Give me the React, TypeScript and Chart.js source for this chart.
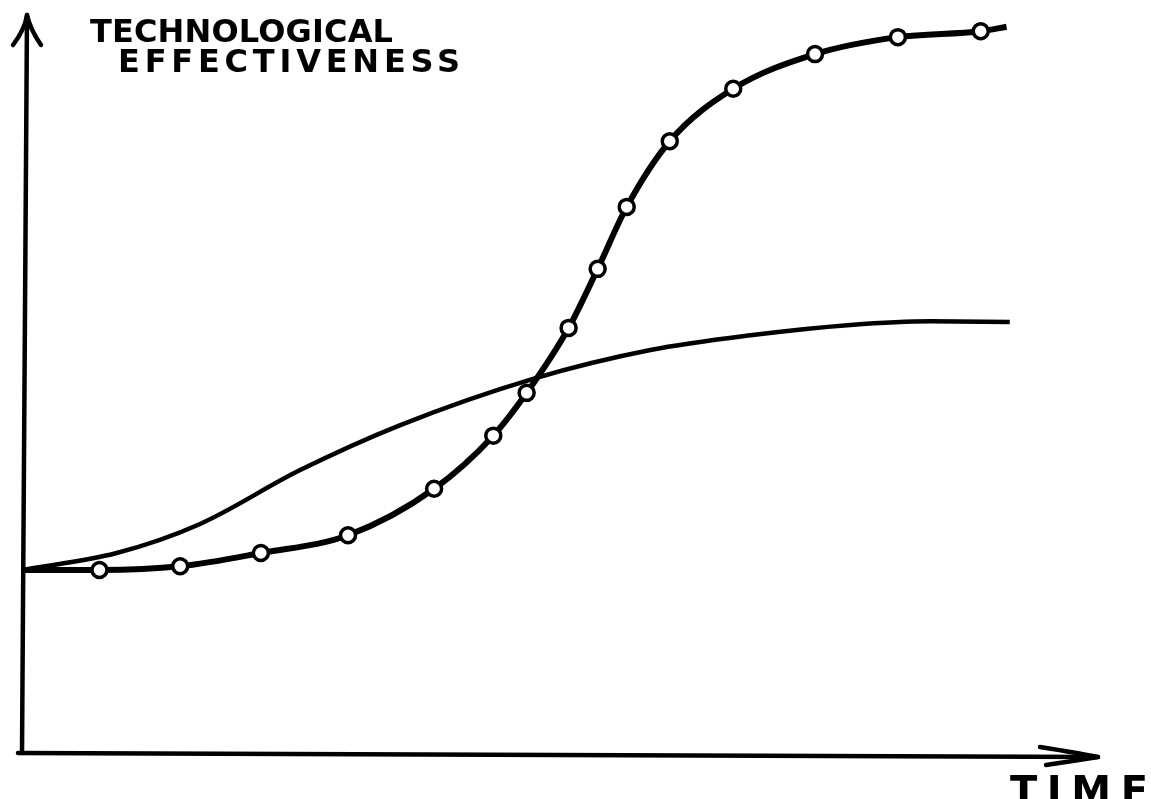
import React, { useEffect, useRef } from "react";
import { Chart, registerables } from "chart.js";

Chart.register(...registerables);

// S-curve with markers (new technology)
const boldTime = [0, 7.2, 14.7, 22.2, 30.3, 38.3, 43.8, 46.9, 50.8, 53.5, 56.2, 60.2, 66.1, 73.7, 81.4, 89.1, 91.5];
const boldEff = [24.8, 24.8, 25.3, 27.1, 29.5, 35.8, 43.0, 48.8, 57.6, 65.6, 74.0, 82.9, 90.0, 94.7, 97.0, 97.8, 98.4];
const boldMarker = [0, 1, 1, 1, 1, 1, 1, 1, 1, 1, 1, 1, 1, 1, 1, 1, 0];

// Thin curve (old technology)
const thinTime = [0, 8.8, 16.5, 25.8, 35.1, 47.5, 58.4, 67.7, 77.0, 84.4, 91.8];
const thinEff = [24.8, 27.1, 31.0, 38.3, 44.4, 50.7, 54.6, 56.6, 58.0, 58.5, 58.4];

const yTitleLines = ["TECHNOLOGICAL", "EFFECTIVENESS"];
const xTitle = "TIME";

function fitText(ctx: CanvasRenderingContext2D, text: string, x: number, y: number, w: number) {
  (ctx as any).letterSpacing = "0px";
  const m = ctx.measureText(text).width;
  ctx.save();
  ctx.translate(x, y);
  if (m < w) {
    const sp = (w - m) / Math.max(1, text.length - 1);
    (ctx as any).letterSpacing = sp + "px";
    ctx.fillText(text, 0, 0);
  } else {
    ctx.scale(w / m, 1);
    ctx.fillText(text, 0, 0);
  }
  ctx.restore();
}

const sketchPlugin = {
  id: "sketch",
  afterDraw(chart: any) {
    const { ctx, chartArea } = chart;
    const { left, right, top, bottom } = chartArea;
    ctx.save();
    ctx.strokeStyle = "#000";
    ctx.fillStyle = "#000";
    ctx.lineCap = "round";
    ctx.lineJoin = "round";
    ctx.lineWidth = 4.5;
    // y axis
    ctx.beginPath();
    ctx.moveTo(left, bottom);
    ctx.lineTo(left + 5, top);
    ctx.stroke();
    // y arrow head
    ctx.beginPath();
    ctx.moveTo(left - 9, top + 30);
    ctx.quadraticCurveTo(left + 3, top + 14, left + 5, top);
    ctx.quadraticCurveTo(left + 8, top + 14, left + 19, top + 30);
    ctx.stroke();
    // x axis
    ctx.beginPath();
    ctx.moveTo(left - 4, bottom);
    ctx.lineTo(right, bottom + 4);
    ctx.stroke();
    // x arrow head
    ctx.beginPath();
    ctx.moveTo(right - 58, bottom - 6);
    ctx.quadraticCurveTo(right - 20, bottom, right, bottom + 4);
    ctx.quadraticCurveTo(right - 25, bottom + 8, right - 52, bottom + 12);
    ctx.stroke();

    // titles
    ctx.textBaseline = "alphabetic";
    ctx.font = "bold 32px 'DejaVu Sans'";
    fitText(ctx, yTitleLines[0], 90, 42, 303);
    fitText(ctx, yTitleLines[1], 118, 72, 342);
    ctx.font = "bold 40px 'DejaVu Sans'";
    fitText(ctx, xTitle, 1010, 805, 138);
    ctx.restore();
  },
};

export default function App() {
  const ref = useRef<HTMLCanvasElement>(null);
  useEffect(() => {
    if (!ref.current) return;
    const chart = new Chart(ref.current, {
      type: "line",
      data: {
        datasets: [
          {
            label: "Old",
            data: thinTime.map((t, i) => ({ x: t, y: thinEff[i] })),
            borderColor: "#000",
            borderWidth: 4.5,
            pointRadius: 0,
            cubicInterpolationMode: "monotone",
            fill: false,
          },
          {
            label: "New",
            data: boldTime.map((t, i) => ({ x: t, y: boldEff[i] })),
            borderColor: "#000",
            borderWidth: 6,
            pointRadius: boldMarker.map((m) => (m ? 7.5 : 0)),
            pointBorderWidth: 3.5,
            pointBackgroundColor: "#fff",
            pointBorderColor: "#000",
            pointStyle: "circle",
            cubicInterpolationMode: "monotone",
            fill: false,
          },
        ],
      },
      options: {
        responsive: false,
        animation: false,
        devicePixelRatio: 1,
        layout: { padding: { left: 22, right: 53, top: 15, bottom: 46 } },
        plugins: { legend: { display: false }, tooltip: { enabled: false }, title: { display: false } },
        scales: {
          x: { type: "linear", min: 0, max: 100, display: false },
          y: { type: "linear", min: 0, max: 100, display: false },
        },
      },
      plugins: [sketchPlugin],
    } as any);
    return () => chart.destroy();
  }, []);
  return (
    <div style={{ position: "fixed", left: 0, top: 0, width: 1151, height: 799, background: "#fff" }}>
      <canvas ref={ref} width={1151} height={799} />
    </div>
  );
}
